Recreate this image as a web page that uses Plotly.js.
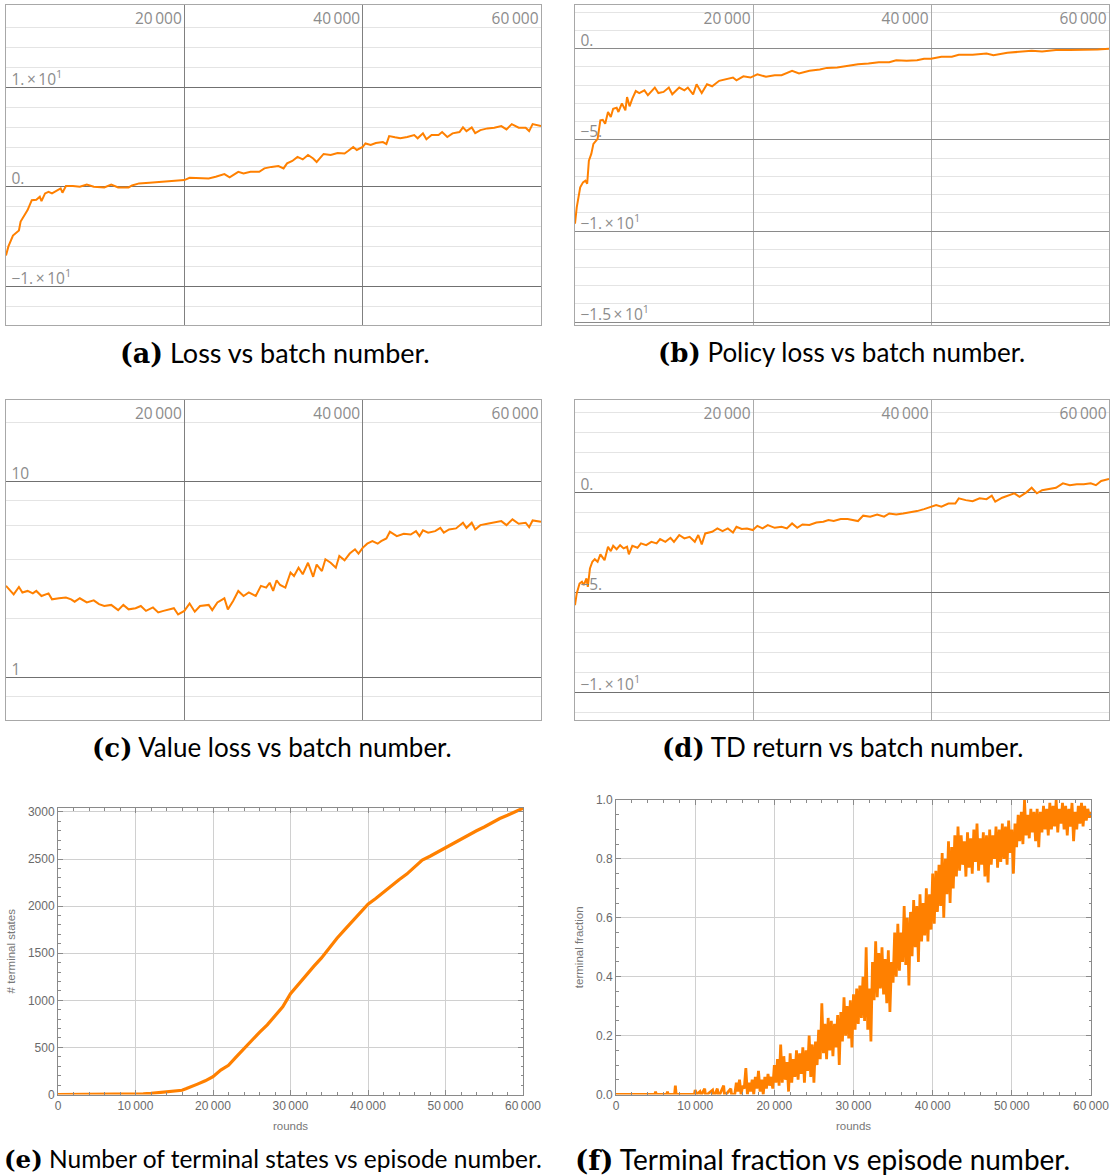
<!DOCTYPE html>
<html>
<head>
<meta charset="utf-8">
<script src="https://cdn.plot.ly/plotly-3.0.1.min.js"></script>
<style>html,body{margin:0;padding:0;background:#fff;} #chart{width:1114px;height:1176px;}</style>
</head>
<body>
<div id="chart"></div>
<script>
// ---------------- data ----------------
// (a) Loss vs batch number
const lossBatch = [0,270,780,1250,1450,1640,2030,2420,2890,3400,3790,3980,4380,4770,5160,5740,6130,6330,6720,7500,8280,9060,9840,11020,11800,12580,13750,14140,14920,16090,17270,18440,19220,20000,20590,21560,22730,23520,24490,25080,26050,26640,27420,28400,28980,29770,30550,31130,31520,32110,32690,33280,33870,34450,34840,35620,36410,37190,37970,38360,38940,39340,40000,40310,40900,41480,42270,42660,42970,43630,44220,45000,45780,46170,46760,47150,47730,48510,48910,49490,50080,50860,51250,51640,52230,52620,53200,53980,54760,55550,56130,56720,57500,58280,58670,59060,60000];
const lossValue = [-6.9,-6.0,-4.9,-4.5,-4.4,-3.5,-2.85,-2.35,-1.35,-1.3,-1.0,-1.45,-0.67,-0.5,-0.67,-0.4,-0.17,-0.6,0.07,0.07,0,0.23,0,-0.07,0.23,-0.07,-0.07,0.13,0.34,0.4,0.5,0.6,0.67,0.67,0.9,0.84,0.84,1.0,1.27,0.94,1.5,1.34,1.5,1.5,1.85,2.0,2.08,1.85,2.35,2.6,3.0,2.75,3.2,2.85,2.5,3.3,3.2,3.4,3.35,3.6,4.0,3.7,4.0,4.36,4.2,4.4,4.5,4.3,5.1,4.97,4.87,5.0,5.2,4.87,5.37,4.77,5.2,5.2,5.5,5.0,5.37,5.5,5.97,5.6,5.97,5.4,5.7,5.87,5.94,6.1,5.77,6.3,5.94,5.94,5.6,6.3,6.1];

// (b) Policy loss vs batch number
const policyBatch = [0,195,585,900,1170,1370,1560,1830,2070,2340,2540,2850,3120,3390,3710,4020,4290,4680,4880,5270,5660,5850,6130,6440,6830,7220,7800,8190,8970,9370,9950,10540,10930,11710,12290,12680,13270,13660,14240,14830,15410,16200,16980,17750,18140,18920,19710,20490,21460,22440,23210,24390,25170,26340,27510,28290,29460,30630,31800,32970,34140,35310,36090,37260,38430,39220,40000,41170,42340,43120,44680,46240,47020,48580,50140,51310,52480,54040,55600,57170,58730,60000];
const policyValue = [-9.6,-8.7,-7.6,-7.33,-7.24,-7.4,-6.14,-5.77,-5.22,-5.04,-4.94,-3.93,-3.9,-4.12,-3.47,-3.75,-3.29,-3.24,-3.47,-3.0,-3.38,-2.65,-3.16,-2.74,-2.32,-2.43,-2.28,-2.55,-2.13,-2.43,-2.37,-2.13,-2.5,-2.13,-2.28,-2.13,-2.5,-1.95,-2.43,-1.95,-2.06,-1.76,-1.69,-1.58,-1.73,-1.51,-1.58,-1.4,-1.54,-1.45,-1.45,-1.21,-1.36,-1.21,-1.14,-1.05,-1.03,-0.92,-0.85,-0.81,-0.74,-0.74,-0.63,-0.66,-0.63,-0.55,-0.55,-0.44,-0.44,-0.33,-0.33,-0.26,-0.35,-0.22,-0.18,-0.11,-0.15,-0.07,-0.07,-0.06,-0.04,0];

// (c) Value loss vs batch number (log scale)
const valueBatch = [0,470,860,1450,1840,2420,3010,3400,3980,4770,5160,5940,6720,7300,7700,8280,9060,9840,10430,11020,11800,12580,13160,13750,14530,15120,15700,16480,17070,17660,18440,18830,19300,20000,20590,21170,21760,22730,23130,23710,24490,24880,25470,26050,26640,27230,28010,28590,29180,29570,29960,30350,30740,31330,31910,32300,32810,33280,33870,34450,34840,35430,35820,36410,36990,37380,37970,38550,39140,39530,40000,40510,41090,41680,42070,42660,43050,43830,44610,45390,45980,46370,46760,47340,48130,48710,49100,49690,50470,51250,51640,52230,52620,53200,53980,54760,55550,56130,56800,57500,58280,58670,59060,60000];
const valueLoss = [2.94,2.77,2.66,2.90,2.72,2.77,2.69,2.77,2.61,2.69,2.51,2.54,2.56,2.51,2.44,2.54,2.42,2.48,2.37,2.32,2.35,2.21,2.35,2.23,2.26,2.32,2.19,2.28,2.15,2.19,2.23,2.26,2.10,2.19,2.39,2.17,2.32,2.35,2.21,2.42,2.54,2.23,2.46,2.77,2.61,2.72,2.61,2.94,2.88,3.05,2.77,3.14,2.97,2.88,3.44,3.30,3.64,3.37,3.86,3.27,3.78,3.50,4.02,3.86,3.64,4.18,3.97,4.30,4.52,4.30,4.60,4.83,4.98,4.83,4.98,5.14,5.56,5.28,5.43,5.38,5.60,5.28,5.65,5.50,5.60,5.82,5.50,5.71,5.78,6.18,5.82,6.18,5.71,6.01,6.11,6.18,6.30,6.01,6.43,6.11,6.18,5.87,6.35,6.25];

// (d) TD return vs batch number
const tdBatch = [0,195,510,780,980,1290,1440,1680,1950,2220,2540,2850,3320,3710,4020,4290,4680,5070,5460,5850,6050,6440,7020,7410,8000,8580,9170,9560,10150,10730,11120,11710,12290,12880,13460,13850,14240,14630,15410,16000,16580,17170,17750,18140,18730,19320,19980,20490,21070,21660,22440,23210,23800,24390,24970,25560,26340,27120,27900,28480,29070,29850,30630,31800,32380,33170,33950,34730,35310,36090,36870,37650,38430,39220,40000,40580,41170,41950,42730,43120,43900,44680,45460,46240,46830,47220,48000,48780,49360,49950,50720,51310,51900,52480,53260,54040,54820,55600,56380,57170,57950,58530,59120,60000];
const tdReturn = [-5.64,-5.05,-4.55,-4.46,-4.63,-4.30,-4.72,-3.80,-3.46,-3.33,-3.46,-3.09,-3.38,-2.71,-2.93,-2.66,-2.83,-2.63,-2.79,-2.71,-3.09,-2.66,-2.76,-2.54,-2.63,-2.46,-2.54,-2.32,-2.46,-2.26,-2.46,-2.12,-2.29,-2.21,-2.46,-2.12,-2.59,-2.04,-1.96,-1.79,-1.92,-1.79,-1.99,-1.71,-1.82,-1.79,-1.87,-1.66,-1.79,-1.62,-1.76,-1.71,-1.79,-1.54,-1.76,-1.59,-1.62,-1.49,-1.45,-1.37,-1.42,-1.32,-1.32,-1.42,-1.15,-1.20,-1.09,-1.20,-1.04,-1.09,-1.04,-0.99,-0.92,-0.82,-0.70,-0.62,-0.70,-0.54,-0.54,-0.28,-0.37,-0.42,-0.28,-0.32,-0.15,-0.45,-0.25,-0.12,-0.03,-0.20,0.02,0.25,-0.03,0.13,0.18,0.25,0.47,0.38,0.42,0.42,0.47,0.38,0.59,0.69];

// (e) Number of terminal states vs episode number
const terminalRounds = [0,2000,4000,6000,8000,10000,11000,12000,13000,14000,15000,15500,16000,16500,17000,18000,19000,19500,20000,21000,22000,23000,24000,25000,26000,27000,28000,29000,30000,31000,32000,33000,34000,35000,36000,37000,38000,39000,40000,41000,42000,43000,44000,45000,46000,47000,48000,49000,50000,51000,52000,53000,54000,55000,56000,57000,58000,59000,60000];
const terminalCount = [0,0,0,1,3,5,7,12,20,28,33,35,45,60,75,110,145,170,190,260,310,400,490,580,660,740,830,930,1070,1170,1260,1360,1450,1560,1660,1750,1840,1930,2020,2080,2150,2210,2280,2340,2420,2490,2530,2575,2620,2665,2710,2760,2800,2840,2890,2930,2965,3000,3040];

// (f) Terminal fraction vs episode number
const fractionRounds = [0,4900,5000,5100,6400,6500,6600,7400,7500,7600,9900,10000,10200,10600,10700,10800,11200,11300,11500,12200,12300,12500,12800,12900,13100,13600,13700,13900,14500,14600,14800,
15000,15200,15400,15600,15800,16000,16200,16400,16600,16800,
17000,17200,17400,17600,17800,18000,18200,18400,18600,18800,
19000,19200,19400,19600,19800,20000,20200,20400,20600,20800,
21000,21200,21400,21600,21800,22000,22200,22400,22600,22800,
23000,23200,23400,23600,23800,24000,24200,24400,24600,24800,
25000,25200,25400,25600,25800,26000,26200,26400,26600,26800,
27000,27200,27400,27600,27800,28000,28200,28400,28600,28800,
29000,29200,29400,29600,29800,30000,30200,30400,30600,30800,
31000,31200,31400,31600,31800,32000,32200,32400,32600,32800,
33000,33200,33400,33600,33800,34000,34200,34400,34600,34800,
35000,35200,35400,35600,35800,36000,36200,36400,36600,36800,
37000,37200,37400,37600,37800,38000,38200,38400,38600,38800,
39000,39200,39400,39600,39800,40000,40200,40400,40600,40800,
41000,41200,41400,41600,41800,42000,42200,42400,42600,42800,
43000,43200,43400,43600,43800,44000,44200,44400,44600,44800,
45000,45200,45400,45600,45800,46000,46200,46400,46600,46800,
47000,47200,47400,47600,47800,48000,48200,48400,48600,48800,
49000,49200,49400,49600,49800,50000,50200,50400,50600,50800,
51000,51200,51400,51600,51800,52000,52200,52400,52600,52800,
53000,53200,53400,53600,53800,54000,54200,54400,54600,54800,
55000,55200,55400,55600,55800,56000,56200,56400,56600,56800,
57000,57200,57400,57600,57800,58000,58200,58400,58600,58800,
59000,59200,59400,59600,59800,60000];
const fractionValue = [0,0,0.01,0,0,0.01,0,0,0.03,0,0,0.015,0,0.01,0,0,0.02,0,0,0.015,0,0,0.02,0,0,0.03,0,0,0.02,0,0,
0.00,0.04,0.01,0.05,0.00,0.03,0.02,0.09,0.00,0.04,
0.01,0.05,0.00,0.06,0.02,0.08,0.01,0.05,0.00,0.06,
0.02,0.07,0.03,0.06,0.02,0.10,0.04,0.12,0.03,0.17,
0.04,0.13,0.05,0.11,0.01,0.14,0.04,0.12,0.06,0.15,
0.05,0.14,0.07,0.16,0.04,0.15,0.08,0.20,0.06,0.17,
0.04,0.18,0.10,0.22,0.12,0.31,0.14,0.24,0.12,0.26,
0.15,0.25,0.13,0.24,0.16,0.27,0.10,0.28,0.18,0.33,
0.20,0.30,0.19,0.32,0.16,0.34,0.22,0.36,0.24,0.37,
0.26,0.40,0.25,0.50,0.22,0.36,0.18,0.45,0.32,0.52,
0.33,0.48,0.36,0.50,0.34,0.46,0.31,0.49,0.28,0.45,
0.38,0.55,0.40,0.58,0.42,0.55,0.45,0.64,0.44,0.60,
0.37,0.62,0.47,0.66,0.50,0.64,0.45,0.68,0.52,0.65,
0.54,0.70,0.52,0.68,0.56,0.75,0.58,0.76,0.62,0.78,
0.64,0.82,0.60,0.80,0.68,0.86,0.65,0.84,0.70,0.88,
0.74,0.91,0.76,0.88,0.78,0.86,0.74,0.89,0.77,0.87,
0.75,0.90,0.79,0.92,0.76,0.87,0.78,0.89,0.74,0.88,
0.72,0.90,0.78,0.88,0.80,0.91,0.77,0.90,0.79,0.92,
0.80,0.91,0.78,0.93,0.82,0.90,0.75,0.92,0.84,0.95,
0.86,0.96,0.85,1.00,0.88,0.95,0.87,0.97,0.89,0.96,
0.86,0.97,0.84,0.96,0.89,0.98,0.90,0.97,0.88,0.99,
0.90,0.98,0.91,1.00,0.89,0.97,0.92,0.99,0.90,0.98,
0.88,0.97,0.91,0.99,0.86,0.96,0.90,0.98,0.92,0.99,
0.91,0.98,0.93,0.97,0.94,0.96];

// tick labels
const batchTickVals = [20000, 40000, 60000];
const batchTickText = ['20\u2009000', '40\u2009000', '60\u2009000'];
const lossTickVals = [-10, 0, 10];
const lossTickText = ['\u22121.\u2009\u00d7\u200910<sup>1</sup>', '0.', '1.\u2009\u00d7\u200910<sup>1</sup>'];
const policyTickVals = [-15, -10, -5, 0];
const policyTickText = ['\u22121.5\u2009\u00d7\u200910<sup>1</sup>', '\u22121.\u2009\u00d7\u200910<sup>1</sup>', '\u22125.', '0.'];
const valueTickVals = [1, 10];
const valueTickText = ['1', '10'];
const tdTickVals = [-10, -5, 0];
const tdTickText = ['\u22121.\u2009\u00d7\u200910<sup>1</sup>', '\u22125.', '0.'];
const roundsTickVals = [0, 10000, 20000, 30000, 40000, 50000, 60000];
const roundsTickText = ['0', '10\u2009000', '20\u2009000', '30\u2009000', '40\u2009000', '50\u2009000', '60\u2009000'];
const countTickVals = [0, 500, 1000, 1500, 2000, 2500, 3000];
const countTickText = ['0', '500', '1000', '1500', '2000', '2500', '3000'];
const fracTickVals = [0, 0.2, 0.4, 0.6, 0.8, 1.0];
const fracTickText = ['0.0', '0.2', '0.4', '0.6', '0.8', '1.0'];
const captions = [
  ['(a)', 'Loss vs batch number.'],
  ['(b)', 'Policy loss vs batch number.'],
  ['(c)', 'Value loss vs batch number.'],
  ['(d)', 'TD return vs batch number.'],
  ['(e)', 'Number of terminal states vs episode number.'],
  ['(f)', 'Terminal fraction vs episode number.']
];

// ---------------- layout helpers ----------------
const W = 1114, H = 1176;
const ORANGE = '#ff8000';
const px = v => v / W;
const py = v => 1 - v / H;
const tickFontTop = {family: 'Open Sans, sans-serif', size: 15.5, color: '#8c8c8c'};

function batchXAxis(l, r, anchor, gridcolor) {
  return {
    domain: [px(l), px(r)], anchor: anchor, range: [0, 60000], side: 'top',
    tickmode: 'array', tickvals: batchTickVals, ticktext: batchTickText,
    ticklabelposition: 'inside left', ticks: '', tickfont: tickFontTop,
    ticklabelstandoff: 5, ticklabelshift: -2, ticklabeloverflow: 'allow',
    showgrid: true, gridcolor: gridcolor, gridwidth: 1,
    showline: true, mirror: true, linecolor: '#a8a8a8', linewidth: 1,
    zeroline: false, fixedrange: true
  };
}
function batchYAxis(t, b, anchor, range, vals, text, minorVals, gridcolor, type) {
  return {
    domain: [py(b), py(t)], anchor: anchor, range: range, type: type || 'linear',
    tickmode: 'array', tickvals: vals, ticktext: text,
    ticklabelposition: 'inside top', ticks: '', tickfont: tickFontTop,
    ticklabelstandoff: 5, ticklabelshift: 3, ticklabeloverflow: 'allow',
    showgrid: true, gridcolor: gridcolor, gridwidth: 1,
    minor: {tickmode: 'array', tickvals: minorVals, showgrid: true, gridcolor: '#e4e4e4', gridwidth: 1, ticks: ''},
    showline: true, mirror: true, linecolor: '#a8a8a8', linewidth: 1,
    zeroline: false, fixedrange: true
  };
}
const frameTickFont = {family: 'Liberation Sans, Arial, sans-serif', size: 12, color: '#6a6a6a'};
function frameAxis(domain, anchor, range, vals, text, minorDtick, title, standoff) {
  return {
    domain: domain, anchor: anchor, range: range,
    tickmode: 'array', tickvals: vals, ticktext: text,
    ticks: 'inside', ticklen: 5, tickwidth: 1, tickcolor: '#8a8a8a', tickfont: frameTickFont,
    minor: {tickmode: 'linear', tick0: 0, dtick: minorDtick, ticks: 'inside', ticklen: 2.5, tickcolor: '#8a8a8a', showgrid: false},
    showgrid: true, gridcolor: '#d0d0d0', gridwidth: 1,
    showline: true, mirror: 'allticks', linecolor: '#8a8a8a', linewidth: 1,
    zeroline: false, fixedrange: true,
    title: {text: title, font: {family: 'Liberation Sans, Arial, sans-serif', size: 11.5, color: '#777'}, standoff: standoff}
  };
}

const lineTrace = (x, y, xa, ya, width) => ({
  x: x, y: y, xaxis: xa, yaxis: ya, type: 'scatter', mode: 'lines',
  line: {color: ORANGE, width: width}, hoverinfo: 'skip', showlegend: false
});

const traces = [
  lineTrace(lossBatch, lossValue, 'x', 'y', 2),
  lineTrace(policyBatch, policyValue, 'x2', 'y2', 2),
  lineTrace(valueBatch, valueLoss, 'x3', 'y3', 2),
  lineTrace(tdBatch, tdReturn, 'x4', 'y4', 2),
  lineTrace(terminalRounds, terminalCount, 'x5', 'y5', 3.2),
  lineTrace(fractionRounds, fractionValue, 'x6', 'y6', 2.8)
];

// caption centre (x, y) and font size
const capPos = [[275, 352, 27], [841, 352, 26], [272, 747, 26], [842, 747, 26], [273, 1159, 24.5], [822, 1159, 28]];
const annotations = captions.map((c, i) => ({
  xref: 'paper', yref: 'paper', x: px(capPos[i][0]), y: py(capPos[i][1]),
  xanchor: 'center', yanchor: 'middle', showarrow: false,
  text: '<span style="font-family:DejaVu Serif;font-weight:bold">' + c[0] + '</span> ' + c[1],
  font: {family: 'Lato, Liberation Sans, Arial, sans-serif', size: capPos[i][2], color: '#000'}
}));

const layout = {
  width: W, height: H, autosize: false,
  margin: {l: 0, r: 0, t: 0, b: 0, pad: 0},
  paper_bgcolor: '#fff', plot_bgcolor: '#fff',
  showlegend: false,
  xaxis: batchXAxis(6, 541, 'y', '#808080'),
  yaxis: batchYAxis(5, 324.5, 'x', [-13.85, 18.28], lossTickVals, lossTickText, [-12,-8,-6,-4,-2,2,4,6,8,12,14,16], '#707070'),
  xaxis2: batchXAxis(575, 1109, 'y2', '#ababab'),
  yaxis2: batchYAxis(5, 324.5, 'x2', [-15.13, 2.4], policyTickVals, policyTickText, [-14,-13,-12,-11,-9,-8,-7,-6,-4,-3,-2,-1,1,2], '#8a8a8a'),
  xaxis3: batchXAxis(6, 541, 'y3', '#808080'),
  yaxis3: batchYAxis(400, 719.5, 'x3', [Math.log10(0.61), Math.log10(26.2)], valueTickVals, valueTickText, [0.8,2,4,6,8,20], '#707070', 'log'),
  xaxis4: batchXAxis(575, 1109, 'y4', '#ababab'),
  yaxis4: batchYAxis(400, 719.5, 'x4', [-11.37, 4.65], tdTickVals, tdTickText, [-11,-9,-8,-7,-6,-4,-3,-2,-1,1,2,3,4], '#707070'),
  xaxis5: frameAxis([px(58), px(523)], 'y5', [0, 60000], roundsTickVals, roundsTickText, 2000, 'rounds', 10),
  yaxis5: frameAxis([py(1094.5), py(808)], 'x5', [0, 3042], countTickVals, countTickText, 100, '# terminal states', 9),
  xaxis6: frameAxis([px(616), px(1091)], 'y6', [0, 60000], roundsTickVals, roundsTickText, 2000, 'rounds', 10),
  yaxis6: frameAxis([py(1094.5), py(800)], 'x6', [0, 1], fracTickVals, fracTickText, 0.05, 'terminal fraction', 9),
  annotations: annotations
};

Plotly.newPlot('chart', traces, layout, {staticPlot: true, displayModeBar: false});
</script>
</body>
</html>
